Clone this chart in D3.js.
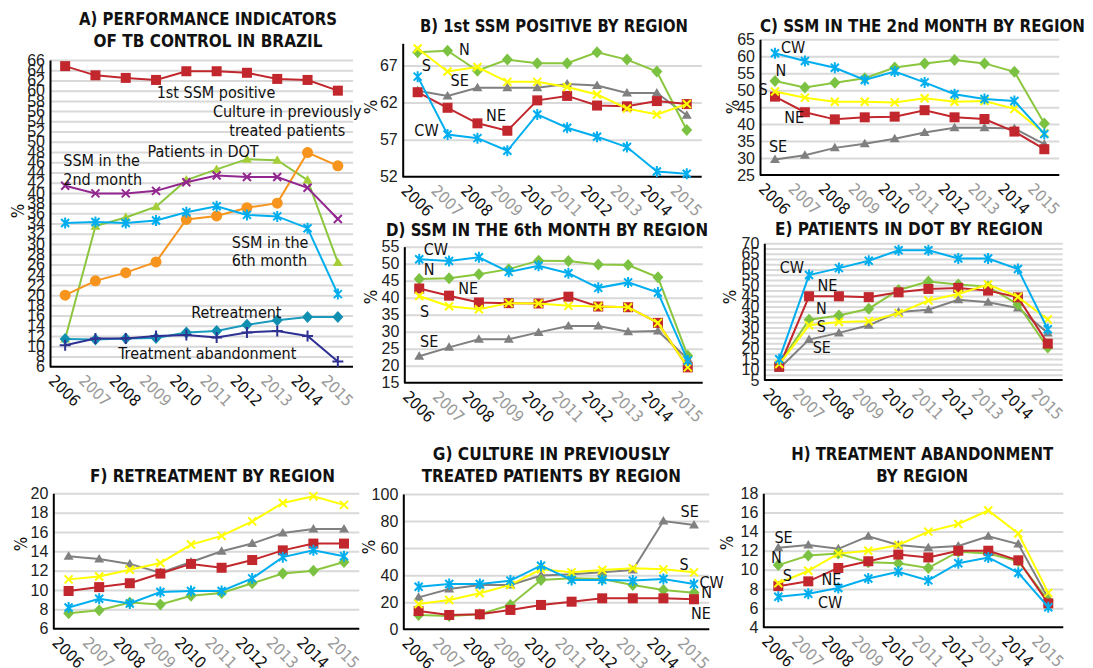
<!DOCTYPE html>
<html lang="en">
<head>
<meta charset="UTF-8">
<script src="https://cdn.jsdelivr.net/npm/d3@7"></script>
<style>
  body { margin: 0; background: #fff; }
  svg text { font-family: "Liberation Sans Narrow", "DejaVu Sans Condensed", "Liberation Sans", sans-serif; }
</style>
</head>
<body>
<svg id="chart" width="1093" height="668"></svg>
<script>
const years = ["2006", "2007", "2008", "2009", "2010", "2011", "2012", "2013", "2014", "2015"];

// A) national indicators
const ssmPositive      = [64.8, 63.0, 62.5, 62.1, 63.8, 63.8, 63.5, 62.3, 62.1, 60.0];
const cultureRetreated = [11.4, 33.5, 35.2, 37.3, 42.5, 44.6, 46.6, 46.4, 42.5, 26.4];
const patientsDot      = [20.0, 22.8, 24.4, 26.5, 34.8, 35.5, 37.1, 38.0, 47.9, 45.3];
const ssm2ndMonth      = [41.4, 39.9, 39.9, 40.4, 42.1, 43.4, 43.1, 43.1, 41.0, 34.9];
const ssm6thMonth      = [34.1, 34.3, 34.1, 34.6, 36.2, 37.4, 35.7, 35.4, 33.1, 20.2];
const retreatment      = [11.4, 11.3, 11.5, 11.6, 12.7, 13.0, 14.2, 15.1, 15.7, 15.7];
const abandonment      = [10.2, 11.5, 11.5, 12.0, 12.2, 11.7, 12.7, 13.0, 12.0, 7.0];

// B) 1st SSM positive by region
const ssmPosN  = [68.8, 69.0, 66.3, 67.8, 67.3, 67.3, 68.8, 67.8, 66.2, 58.3];
const ssmPosNE = [63.4, 61.3, 59.2, 58.2, 62.3, 62.9, 61.6, 61.5, 62.2, 61.8];
const ssmPosSE = [63.6, 62.9, 64.0, 64.0, 64.0, 64.5, 64.3, 63.3, 63.3, 60.3];
const ssmPosS  = [69.3, 66.2, 66.8, 64.8, 64.8, 64.1, 63.1, 61.2, 60.4, 61.8];
const ssmPosCW = [65.5, 57.7, 57.2, 55.5, 60.4, 58.6, 57.4, 56.0, 52.7, 52.4];

// C) SSM in the 2nd month by region
const ssm2N  = [52.7, 50.8, 52.2, 53.5, 56.7, 57.9, 58.9, 57.9, 55.4, 40.2];
const ssm2NE = [48.1, 43.5, 41.4, 42.0, 42.2, 44.1, 42.0, 41.5, 37.8, 32.6];
const ssm2SE = [29.6, 30.8, 33.0, 34.2, 35.7, 37.5, 38.9, 38.9, 38.7, 34.1];
const ssm2S  = [49.6, 47.8, 46.6, 46.6, 46.4, 47.6, 46.6, 46.8, 44.5, 37.3];
const ssm2CW = [60.9, 58.6, 56.6, 53.0, 55.5, 52.3, 48.8, 47.4, 46.8, 37.1];

// D) SSM in the 6th month by region
const ssm6N  = [45.5, 45.7, 46.9, 48.4, 50.9, 50.8, 49.8, 49.6, 46.0, 22.9];
const ssm6NE = [42.7, 40.6, 38.6, 38.4, 38.3, 40.3, 37.4, 37.2, 32.6, 19.5];
const ssm6SE = [22.8, 25.4, 27.8, 27.8, 29.8, 31.7, 31.7, 30.0, 30.2, 22.0];
const ssm6S  = [40.5, 37.5, 36.6, 38.4, 38.3, 37.6, 37.4, 37.2, 32.6, 19.5];
const ssm6CW = [51.3, 50.8, 51.9, 47.6, 49.4, 47.2, 42.9, 44.5, 41.5, 21.5];

// E) patients in DOT by region
const dotN  = [12.6, 33.7, 35.7, 38.9, 47.8, 51.8, 50.4, 49.4, 40.9, 20.4];
const dotNE = [11.3, 44.8, 44.8, 44.4, 46.7, 48.3, 48.8, 47.5, 44.3, 22.3];
const dotSE = [10.5, 24.2, 27.4, 31.0, 37.3, 38.4, 43.1, 42.0, 39.2, 27.4];
const dotS  = [12.6, 31.0, 32.6, 32.9, 36.8, 42.8, 45.9, 50.4, 44.5, 33.8];
const dotCW = [14.9, 54.9, 58.2, 61.7, 66.7, 66.7, 62.8, 62.8, 57.8, 29.1];

// F) retreatment by region
const retN  = [7.6, 7.9, 8.7, 8.5, 9.4, 9.7, 10.7, 11.7, 12.0, 12.9];
const retNE = [9.9, 10.3, 10.7, 11.7, 12.7, 12.3, 13.1, 14.1, 14.8, 14.8];
const retSE = [13.5, 13.2, 12.7, 11.8, 12.9, 14.0, 14.8, 15.9, 16.3, 16.3];
const retS  = [11.1, 11.4, 12.1, 12.8, 14.7, 15.6, 17.1, 19.0, 19.7, 18.8];
const retCW = [8.2, 9.1, 8.6, 9.8, 9.9, 9.9, 11.2, 13.4, 14.1, 13.5];

// G) culture in previously treated patients by region
const culN  = [10.6, 9.9, 11.1, 18.0, 36.5, 37.7, 37.2, 32.8, 29.1, 27.1];
const culNE = [13.5, 10.6, 11.1, 14.3, 18.0, 20.4, 22.9, 22.9, 22.9, 22.2];
const culSE = [23.6, 29.8, 32.8, 32.8, 39.7, 40.6, 42.1, 43.8, 80.0, 77.1];
const culS  = [18.7, 21.7, 26.6, 32.8, 44.3, 42.1, 43.8, 45.1, 44.3, 42.1];
const culCW = [31.5, 33.5, 33.5, 36.0, 47.0, 36.5, 36.5, 36.0, 37.2, 33.5];

// H) treatment abandonment by region
const abnN  = [10.5, 11.5, 11.7, 10.8, 10.7, 10.2, 11.9, 11.7, 10.9, 6.8];
const abnNE = [8.3, 8.8, 10.2, 10.9, 11.6, 11.3, 12.0, 12.0, 11.0, 6.5];
const abnSE = [12.3, 12.6, 12.2, 13.5, 12.6, 12.3, 12.5, 13.5, 12.7, 7.0];
const abnS  = [8.6, 9.9, 11.7, 12.0, 12.6, 14.0, 14.8, 16.2, 13.8, 7.6];
const abnCW = [7.2, 7.5, 8.1, 9.1, 9.8, 8.9, 10.7, 11.3, 9.7, 6.1];

// y tick labels per panel
const ticksA = d3.range(6, 67, 2);
const ticksB = [52, 57, 62, 67];
const ticksC = d3.range(25, 66, 5);
const ticksD = d3.range(15, 56, 5);
const ticksE = d3.range(5, 71, 5);
const ticksF = d3.range(6, 21, 2);
const ticksG = d3.range(0, 101, 20);
const ticksH = d3.range(4, 19, 2);

const svg = d3.select("#chart");

// region styles
const C = {
    red: "#c1272d", green: "#8cc63f", greenMk: "#7cc242", gray: "#808080",
    yellow: "#ffff00", cyan: "#00aeef", orange: "#f7941d", purple: "#92278f",
    teal: "#1a9bbd", navy: "#2e3192", culture: "#a6ce39"
};
const regionStyle = {
    N:  { color: C.green, mk: C.greenMk, shape: "diamond" },
    NE: { color: C.red, mk: C.red, shape: "square" },
    SE: { color: C.gray, mk: C.gray, shape: "triangle" },
    S:  { color: C.yellow, mk: C.yellow, shape: "x" },
    CW: { color: C.cyan, mk: C.cyan, shape: "star" }
};

function drawMarker(g, shape, color, cx, cy) {
    if (shape === "square") {
        g.append("rect").attr("x", cx - 5).attr("y", cy - 5)
            .attr("width", 10).attr("height", 10).attr("fill", color);
    } else if (shape === "diamond") {
        g.append("path").attr("d", `M${cx},${cy - 6}L${cx + 5.5},${cy}L${cx},${cy + 6}L${cx - 5.5},${cy}Z`)
            .attr("fill", color);
    } else if (shape === "triangle") {
        g.append("path").attr("d", `M${cx},${cy - 5}L${cx + 5},${cy + 3.5}L${cx - 5},${cy + 3.5}Z`)
            .attr("fill", color);
    } else if (shape === "circle") {
        g.append("circle").attr("cx", cx).attr("cy", cy).attr("r", 5.5).attr("fill", color);
    } else {
        const r = 4;
        let d = "";
        if (shape === "x" || shape === "star") {
            d += `M${cx - r},${cy - r}L${cx + r},${cy + r}M${cx - r},${cy + r}L${cx + r},${cy - r}`;
        }
        if (shape === "star") d += `M${cx},${cy - 5.5}L${cx},${cy + 5.5}`;
        if (shape === "plus") d += `M${cx - 5.5},${cy}L${cx + 5.5},${cy}M${cx},${cy - 5.5}L${cx},${cy + 5.5}`;
        g.append("path").attr("d", d).attr("stroke", color).attr("stroke-width", 2).attr("fill", "none");
    }
}

function drawPanel(p) {
    const g = svg.append("g");
    const x = d3.scalePoint().domain(years).range([p.x0, p.x1]).padding(0.5);
    const y = d3.scaleLinear().domain(p.domain).range([p.yBottom, p.yTop]);
    const xi = i => x(years[0]) + i * x.step();

    // gridlines
    g.append("g")
        .attr("transform", `translate(${p.x0},0)`)
        .call(d3.axisLeft(y).tickValues(p.grid).tickSize(-(p.x1 - p.x0)).tickFormat(""))
        .call(a => a.select(".domain").remove())
        .call(a => a.selectAll("line").attr("stroke", "#d9d9d9").attr("stroke-width", 2));

    // y axis
    g.append("g")
        .attr("transform", `translate(${p.x0},0)`)
        .call(d3.axisLeft(y).tickValues(p.ticks).tickSize(0).tickSizeOuter(0).tickPadding(5))
        .call(a => a.select(".domain").attr("stroke", "#000").attr("stroke-width", 2))
        .call(a => a.selectAll("text").attr("font-size", 16).attr("fill", "#222")
            .style("font-family", "inherit"));

    // x axis
    g.append("g")
        .attr("transform", `translate(0,${p.yBottom})`)
        .call(d3.axisBottom(x).tickSize(0).tickSizeOuter(0))
        .call(a => a.select(".domain").attr("stroke", "#000").attr("stroke-width", 2)
            .attr("d", `M${p.x0},0H${p.x1}`))
        .call(a => a.selectAll("text")
            .attr("font-size", 16)
            .attr("text-anchor", "middle")
            .attr("dy", null)
            .attr("y", 0)
            .attr("dominant-baseline", "central")
            .attr("transform", "translate(-1,24) rotate(45)")
            .attr("fill", (d, i) => i % 2 ? "#999" : "#111"));

    // series
    const line = d3.line().x((d, i) => x(years[i])).y(d => y(d));
    p.series.forEach(s => {
        g.append("path").datum(s.values)
            .attr("d", line).attr("fill", "none")
            .attr("stroke", s.color).attr("stroke-width", 2);
        const mg = g.append("g");
        s.values.forEach((v, i) => drawMarker(mg, s.shape, s.mk || s.color, x(years[i]), y(v)));
    });

    // labels
    p.labels.forEach(l => {
        g.append("text")
            .attr("x", xi(l.i)).attr("y", y(l.v))
            .attr("text-anchor", l.anchor || "start")
            .attr("font-size", 16).attr("fill", "#111")
            .text(l.text);
    });

    // title
    p.title.forEach((t, k) => {
        g.append("text")
            .attr("x", p.titleX).attr("y", p.titleY + k * 22.3)
            .attr("text-anchor", "middle")
            .attr("font-size", 18).attr("font-weight", "bold").attr("fill", "#111")
            .attr("textLength", p.titleW[k]).attr("lengthAdjust", "spacingAndGlyphs")
            .text(t);
    });

    // y label
    g.append("text")
        .attr("transform", `translate(${p.pctX},${p.pctY}) rotate(-90)`)
        .attr("text-anchor", "middle").attr("dominant-baseline", "central")
        .attr("font-size", 17).attr("fill", "#111")
        .text("%");
}

function regional(n, ne, se, s, cw) {
    const vals = { N: n, NE: ne, SE: se, S: s, CW: cw };
    return ["SE", "N", "NE", "S", "CW"].map(k => Object.assign({ values: vals[k] }, regionStyle[k]));
}

const panels = [
    {
        title: ["A) PERFORMANCE INDICATORS", "OF TB CONTROL IN BRAZIL"], titleW: [258, 229], titleX: 208, titleY: 25,
        x0: 50, x1: 353, yTop: 60, yBottom: 366.7, domain: [6, 66],
        ticks: ticksA, grid: ticksA.slice(1), pctX: 18, pctY: 211,
        series: [
            { values: ssmPositive, color: C.red, shape: "square" },
            { values: cultureRetreated, color: C.green, mk: C.culture, shape: "triangle" },
            { values: patientsDot, color: C.orange, shape: "circle" },
            { values: ssm2ndMonth, color: C.purple, shape: "x" },
            { values: ssm6thMonth, color: C.cyan, shape: "star" },
            { values: retreatment, color: C.teal, mk: "#118fb0", shape: "diamond" },
            { values: abandonment, color: C.navy, shape: "plus" }
        ],
        labels: [
            { text: "1st SSM positive", i: 3.02, v: 58.6 },
            { text: "Culture in previously", i: 7.33, v: 54.9, anchor: "middle" },
            { text: "treated patients", i: 7.33, v: 51.2, anchor: "middle" },
            { text: "Patients in DOT", i: 2.72, v: 47.0 },
            { text: "SSM in the", i: -0.06, v: 45.3 },
            { text: "2nd month", i: -0.06, v: 41.6 },
            { text: "SSM in the", i: 5.5, v: 29.3 },
            { text: "6th month", i: 5.5, v: 25.7 },
            { text: "Retreatment", i: 4.16, v: 15.5 },
            { text: "Treatment abandonment", i: 1.75, v: 7.45 }
        ]
    },
    {
        title: ["B) 1st SSM POSITIVE BY REGION"], titleW: [268], titleX: 554, titleY: 32,
        x0: 402.7, x1: 701.7, yTop: 43.3, yBottom: 176.7, domain: [52, 70],
        ticks: ticksB, grid: [57, 62, 67], pctX: 371, pctY: 107,
        series: regional(ssmPosN, ssmPosNE, ssmPosSE, ssmPosS, ssmPosCW),
        labels: [
            { text: "N", i: 1.38, v: 68.4 }, { text: "S", i: 0.14, v: 66.3 },
            { text: "SE", i: 1.1, v: 64.3 }, { text: "NE", i: 2.29, v: 59.5 },
            { text: "CW", i: -0.11, v: 57.5 }
        ]
    },
    {
        title: ["C) SSM IN THE 2nd MONTH BY REGION"], titleW: [325], titleX: 922.5, titleY: 31.7,
        x0: 760, x1: 1059.3, yTop: 39.3, yBottom: 175, domain: [25, 65],
        ticks: ticksC, grid: ticksC.slice(1), pctX: 733, pctY: 107,
        series: regional(ssm2N, ssm2NE, ssm2SE, ssm2S, ssm2CW),
        labels: [
            { text: "CW", i: 0.2, v: 60.9 }, { text: "N", i: 0.02, v: 54.2 },
            { text: "S", i: -0.55, v: 48.6 }, { text: "NE", i: 0.31, v: 40.4 },
            { text: "SE", i: -0.2, v: 31.9 }
        ]
    },
    {
        title: ["D) SSM IN THE 6th MONTH BY REGION"], titleW: [322], titleX: 547, titleY: 236,
        x0: 404.3, x1: 702.7, yTop: 246.7, yBottom: 382.7, domain: [15, 55],
        ticks: ticksD, grid: ticksD.slice(1), pctX: 371, pctY: 297,
        series: regional(ssm6N, ssm6NE, ssm6SE, ssm6S, ssm6CW),
        labels: [
            { text: "CW", i: 0.15, v: 52.6 }, { text: "N", i: 0.15, v: 46.7 },
            { text: "NE", i: 1.31, v: 41.0 }, { text: "S", i: 0.03, v: 34.4 },
            { text: "SE", i: 0.03, v: 25.6 }
        ]
    },
    {
        title: ["E) PATIENTS IN DOT BY REGION"], titleW: [268], titleX: 909, titleY: 235,
        x0: 764.3, x1: 1062.7, yTop: 243.3, yBottom: 380, domain: [5, 70],
        ticks: ticksE, grid: d3.range(7.5, 70.1, 2.5), pctX: 730, pctY: 297,
        series: regional(dotN, dotNE, dotSE, dotS, dotCW),
        labels: [
            { text: "CW", i: 0.02, v: 55.7 }, { text: "NE", i: 1.28, v: 47.3 },
            { text: "N", i: 1.23, v: 36.2 }, { text: "S", i: 1.26, v: 27.7 },
            { text: "SE", i: 1.12, v: 18.0 }
        ]
    },
    {
        title: ["F) RETREATMENT BY REGION"], titleW: [245], titleX: 212.5, titleY: 482.3,
        x0: 53.3, x1: 359.3, yTop: 493.3, yBottom: 628.7, domain: [6, 20],
        ticks: ticksF, grid: ticksF.slice(1), pctX: 21, pctY: 544,
        series: regional(retN, retNE, retSE, retS, retCW),
        labels: []
    },
    {
        title: ["G) CULTURE IN PREVIOUSLY", "TREATED PATIENTS BY REGION"], titleW: [237, 259], titleX: 551.3, titleY: 460,
        x0: 403.3, x1: 709.3, yTop: 494, yBottom: 629.3, domain: [0, 100],
        ticks: ticksG, grid: ticksG.slice(1), pctX: 369, pctY: 547,
        series: regional(culN, culNE, culSE, culS, culCW),
        labels: [
            { text: "SE", i: 8.56, v: 82.8 }, { text: "S", i: 8.53, v: 43.8 },
            { text: "CW", i: 9.18, v: 30.3 }, { text: "N", i: 9.24, v: 22.9 },
            { text: "NE", i: 8.9, v: 7.4 }
        ]
    },
    {
        title: ["H) TREATMENT ABANDONMENT", "BY REGION"], titleW: [262, 92], titleX: 922.2, titleY: 460,
        x0: 763.3, x1: 1063.3, yTop: 493.3, yBottom: 627.3, domain: [4, 18],
        ticks: ticksH, grid: ticksH.slice(1), pctX: 727, pctY: 543,
        series: regional(abnN, abnNE, abnSE, abnS, abnCW),
        labels: [
            { text: "SE", i: -0.13, v: 12.8 }, { text: "N", i: -0.24, v: 10.7 },
            { text: "S", i: 0.15, v: 8.8 }, { text: "NE", i: 1.44, v: 8.4 },
            { text: "CW", i: 1.32, v: 6.0 }
        ]
    }
];

panels.forEach(drawPanel);
</script>
</body>
</html>
